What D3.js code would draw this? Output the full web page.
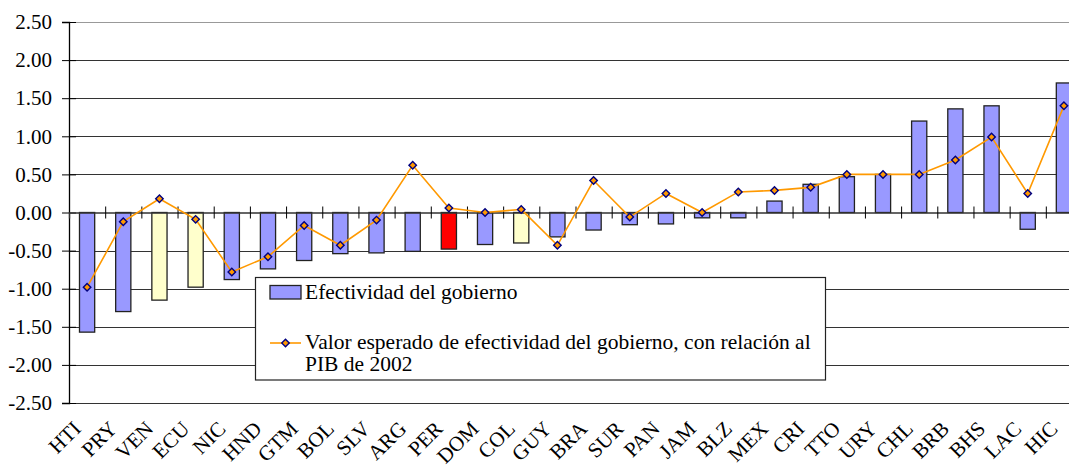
<!DOCTYPE html>
<html lang="es">
<head>
    <meta charset="UTF-8">
    <title>Efectividad del gobierno</title>
    <script src="https://d3js.org/d3.v7.min.js"></script>
    <style>
        body { margin: 0; padding: 0; background: #fff; overflow: hidden; }
        svg { display: block; }
        svg text { font-family: "Liberation Serif", "DejaVu Serif", "Times New Roman", Times, serif; }
        .grid line { stroke-width: 1; shape-rendering: crispEdges; }
    </style>
</head>
<body>
    <svg width="1069" height="468"></svg>

    <script>
        // datos
        const paises = ["HTI", "PRY", "VEN", "ECU", "NIC", "HND", "GTM", "BOL", "SLV", "ARG",
                        "PER", "DOM", "COL", "GUY", "BRA", "SUR", "PAN", "JAM", "BLZ", "MEX",
                        "CRI", "TTO", "URY", "CHL", "BRB", "BHS", "LAC", "HIC"];
        const efectividad = [-1.57, -1.30, -1.15, -0.98, -0.88, -0.74, -0.63, -0.54, -0.53, -0.51,
                             -0.48, -0.42, -0.40, -0.32, -0.23, -0.16, -0.15, -0.07, -0.07, 0.15,
                             0.37, 0.47, 0.50, 1.20, 1.36, 1.40, -0.22, 1.70];
        const esperado = [-0.98, -0.12, 0.18, -0.09, -0.78, -0.58, -0.17, -0.43, -0.10, 0.62,
                          0.06, 0.00, 0.04, -0.43, 0.42, -0.06, 0.25, 0.00, 0.27, 0.29,
                          0.33, 0.50, 0.50, 0.50, 0.69, 0.99, 0.25, 1.40];
        const amarillos = ["VEN", "ECU", "COL"];
        const rojos = ["PER"];
        const yTicks = [2.5, 2.0, 1.5, 1.0, 0.5, 0.0, -0.5, -1.0, -1.5, -2.0, -2.5];
        const leyenda = ["Efectividad del gobierno",
                         "Valor esperado de efectividad del gobierno, con relación al",
                         "PIB de 2002"];

        const svg = d3.select("svg");
        const mLeft = 69, mRight = 1082, mTop = 22, mBottom = 403;
        const fs = "21px";

        const x = d3.scaleBand().domain(paises).range([mLeft, mRight])
            .paddingInner(0.58).paddingOuter(0.29);
        const xIdx = d3.scaleLinear().domain([0, paises.length]).range([mLeft, mRight]);
        const y = d3.scaleLinear().domain([-2.5, 2.5]).range([mBottom, mTop]);

        // líneas de cuadrícula
        svg.append("g").attr("class", "grid")
            .selectAll("line")
            .data(yTicks.filter(d => d !== 0))
            .enter().append("line")
            .attr("x1", mLeft).attr("x2", mRight)
            .attr("y1", d => Math.round(y(d)) + 0.5).attr("y2", d => Math.round(y(d)) + 0.5)
            .attr("stroke", d => d === 2.5 ? "#999" : "#333");

        // barras
        svg.append("g").selectAll("rect")
            .data(paises)
            .enter().append("rect")
            .attr("x", d => x(d))
            .attr("width", x.bandwidth())
            .attr("y", (d, i) => y(Math.max(0, efectividad[i])))
            .attr("height", (d, i) => Math.abs(y(efectividad[i]) - y(0)))
            .attr("fill", d => rojos.includes(d) ? "#ff0000" : amarillos.includes(d) ? "#ffffcc" : "#9999ff")
            .attr("stroke", "#222")
            .attr("stroke-width", 1.3);

        // eje Y
        const yAxis = svg.append("g")
            .attr("transform", `translate(${mLeft},0)`)
            .call(d3.axisLeft(y).tickValues(yTicks).tickSize(7).tickPadding(10)
                .tickFormat(d => d.toFixed(2)));
        yAxis.attr("font-family", null).attr("font-size", null);
        yAxis.select(".domain").attr("stroke", "#000").attr("stroke-width", 1.3);
        yAxis.selectAll(".tick line").attr("x1", 7).attr("stroke", "#000");
        yAxis.selectAll("text").style("font-size", fs).attr("fill", "#000");

        // eje X en cero
        const xAxis = svg.append("g")
            .attr("transform", `translate(0,${y(0)})`)
            .call(d3.axisBottom(xIdx).tickValues(d3.range(1, paises.length)).tickSize(6).tickFormat(""));
        xAxis.select(".domain").attr("stroke", "#333").attr("stroke-width", 1.3);
        xAxis.selectAll(".tick line").attr("y1", -6).attr("stroke", "#000");

        // etiquetas de países
        svg.append("g").selectAll("text")
            .data(paises)
            .enter().append("text")
            .attr("transform", d => `translate(${x(d) + x.bandwidth() / 2 - 5},430) rotate(-45)`)
            .attr("text-anchor", "end")
            .style("font-size", fs)
            .attr("fill", "#000")
            .text(d => d);

        // línea del valor esperado
        const linea = d3.line()
            .x((d, i) => x(paises[i]) + x.bandwidth() / 2)
            .y(d => y(d));
        svg.append("path")
            .datum(esperado)
            .attr("d", linea)
            .attr("fill", "none")
            .attr("stroke", "#ff9900")
            .attr("stroke-width", 1.6);

        const diamante = d3.symbol().type(d3.symbolSquare).size(28);
        svg.append("g").selectAll("path")
            .data(esperado)
            .enter().append("path")
            .attr("d", diamante)
            .attr("transform", (d, i) => `translate(${x(paises[i]) + x.bandwidth() / 2},${y(d)}) rotate(45)`)
            .attr("fill", "#ff9900")
            .attr("stroke", "#000080")
            .attr("stroke-width", 1.4);

        // leyenda
        const ley = svg.append("g");
        ley.append("rect")
            .attr("x", 255.5).attr("y", 277.5)
            .attr("width", 570).attr("height", 102.5)
            .attr("fill", "#fff").attr("stroke", "#222").attr("stroke-width", 1.2);
        ley.append("rect")
            .attr("x", 270).attr("y", 285.5)
            .attr("width", 31).attr("height", 13.5)
            .attr("fill", "#9999ff").attr("stroke", "#222").attr("stroke-width", 1.3);
        ley.append("line")
            .attr("x1", 270).attr("x2", 301).attr("y1", 343).attr("y2", 343)
            .attr("stroke", "#ff9900").attr("stroke-width", 1.6);
        ley.append("path")
            .attr("d", diamante)
            .attr("transform", "translate(285.5,343) rotate(45)")
            .attr("fill", "#ff9900").attr("stroke", "#000080").attr("stroke-width", 1.4);
        ley.selectAll("text")
            .data(leyenda)
            .enter().append("text")
            .attr("x", 305)
            .attr("y", (d, i) => [299, 349, 371][i])
            .style("font-size", "21.5px")
            .attr("fill", "#000")
            .text(d => d);
    </script>
</body>
</html>
